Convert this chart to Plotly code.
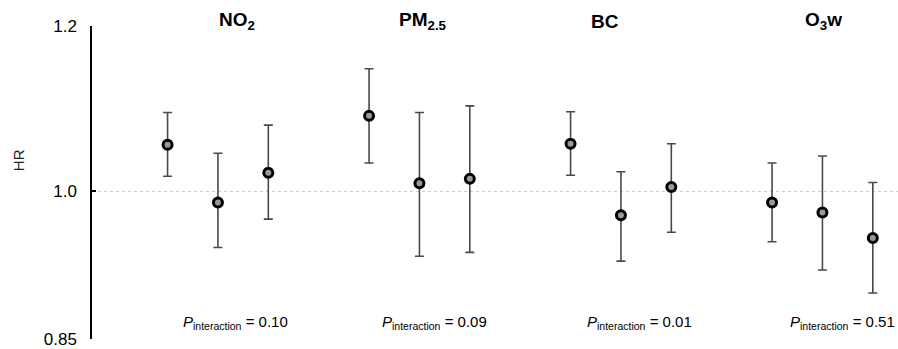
import plotly.graph_objects as go

pollutants = ["<b>NO<sub>2</sub></b>", "<b>PM<sub>2.5</sub></b>", "<b>BC</b>", "<b>O<sub>3</sub>w</b>"]
p_values = ["0.10", "0.09", "0.01", "0.51"]

hr_no2 = [1.053, 0.988, 1.021]
lo_no2 = [1.017, 0.940, 0.970]
hi_no2 = [1.091, 1.043, 1.076]

hr_pm = [1.087, 1.009, 1.014]
lo_pm = [1.032, 0.931, 0.935]
hi_pm = [1.145, 1.091, 1.099]

hr_bc = [1.054, 0.974, 1.005]
lo_bc = [1.018, 0.926, 0.956]
hi_bc = [1.092, 1.022, 1.054]

hr_o3 = [0.988, 0.977, 0.950]
lo_o3 = [0.946, 0.917, 0.894]
hi_o3 = [1.032, 1.040, 1.010]

y_ticks = [0.85, 1.0, 1.2]
y_tick_text = ["0.85", "1.0", "1.2"]

title_x = [1.37, 5.08, 8.68, 13.03]
p_x = [1.34, 5.29, 9.36, 13.39]

hr_all = [hr_no2, hr_pm, hr_bc, hr_o3]
lo_all = [lo_no2, lo_pm, lo_bc, lo_o3]
hi_all = [hi_no2, hi_pm, hi_bc, hi_o3]

xs, ys, eplus, eminus = [], [], [], []
for g in range(4):
    for j in range(3):
        xs.append(4 * g + j)
        ys.append(hr_all[g][j])
        eplus.append(hi_all[g][j] - hr_all[g][j])
        eminus.append(hr_all[g][j] - lo_all[g][j])

fig = go.Figure()
fig.add_trace(go.Scatter(
    x=xs, y=ys, mode="markers",
    marker=dict(symbol="circle", size=9, color="#9a9a9a",
                line=dict(color="#000000", width=3)),
    error_y=dict(type="data", symmetric=False, array=eplus, arrayminus=eminus,
                 color="#4a4a4a", thickness=1.6, width=4.5),
    showlegend=False, cliponaxis=False,
))

fig.add_shape(type="line", xref="paper", x0=0, x1=1, yref="y", y0=1.0, y1=1.0,
              line=dict(color="#cccccc", width=1, dash="dot"), layer="below")

for g in range(4):
    fig.add_annotation(x=title_x[g], xref="x", y=1.0, yref="paper", yshift=5,
                       text=pollutants[g], showarrow=False,
                       font=dict(size=19, color="#000000", family="Liberation Sans, Arial"),
                       yanchor="middle", xanchor="center")
    fig.add_annotation(x=p_x[g], xref="x", y=0.054, yref="paper",
                       text="<i>P</i><sub>interaction</sub> = " + p_values[g], showarrow=False,
                       font=dict(size=15, color="#000000", family="Liberation Sans, Arial"),
                       yanchor="middle", xanchor="center")

fig.add_annotation(x=-0.092, xref="paper", y=0.571, yref="paper", text="HR",
                   textangle=-90, showarrow=False,
                   font=dict(size=15, color="#222222", family="Liberation Sans, Arial"),
                   xanchor="center", yanchor="middle")

fig.update_xaxes(range=[-1.5, 14.5], visible=False, showgrid=False, zeroline=False)
fig.update_yaxes(type="log", range=[-0.0707, 0.0793],
                 tickvals=y_ticks, ticktext=y_tick_text,
                 showline=True, linecolor="#000000", linewidth=1.5,
                 ticks="inside", ticklen=4, tickcolor="#000000", tickwidth=1.5,
                 showgrid=False, zeroline=False, ticklabelstandoff=10,
                 ticklabeloverflow="allow",
                 tickfont=dict(size=17, color="#000000", family="Liberation Sans, Arial"))

fig.update_layout(width=898, height=349, margin=dict(l=92, r=0, t=26, b=4),
                  plot_bgcolor="#ffffff", paper_bgcolor="#ffffff")

fig.write_html("out.html", post_script="document.body.style.margin='0';",
               config={"displayModeBar": False})
